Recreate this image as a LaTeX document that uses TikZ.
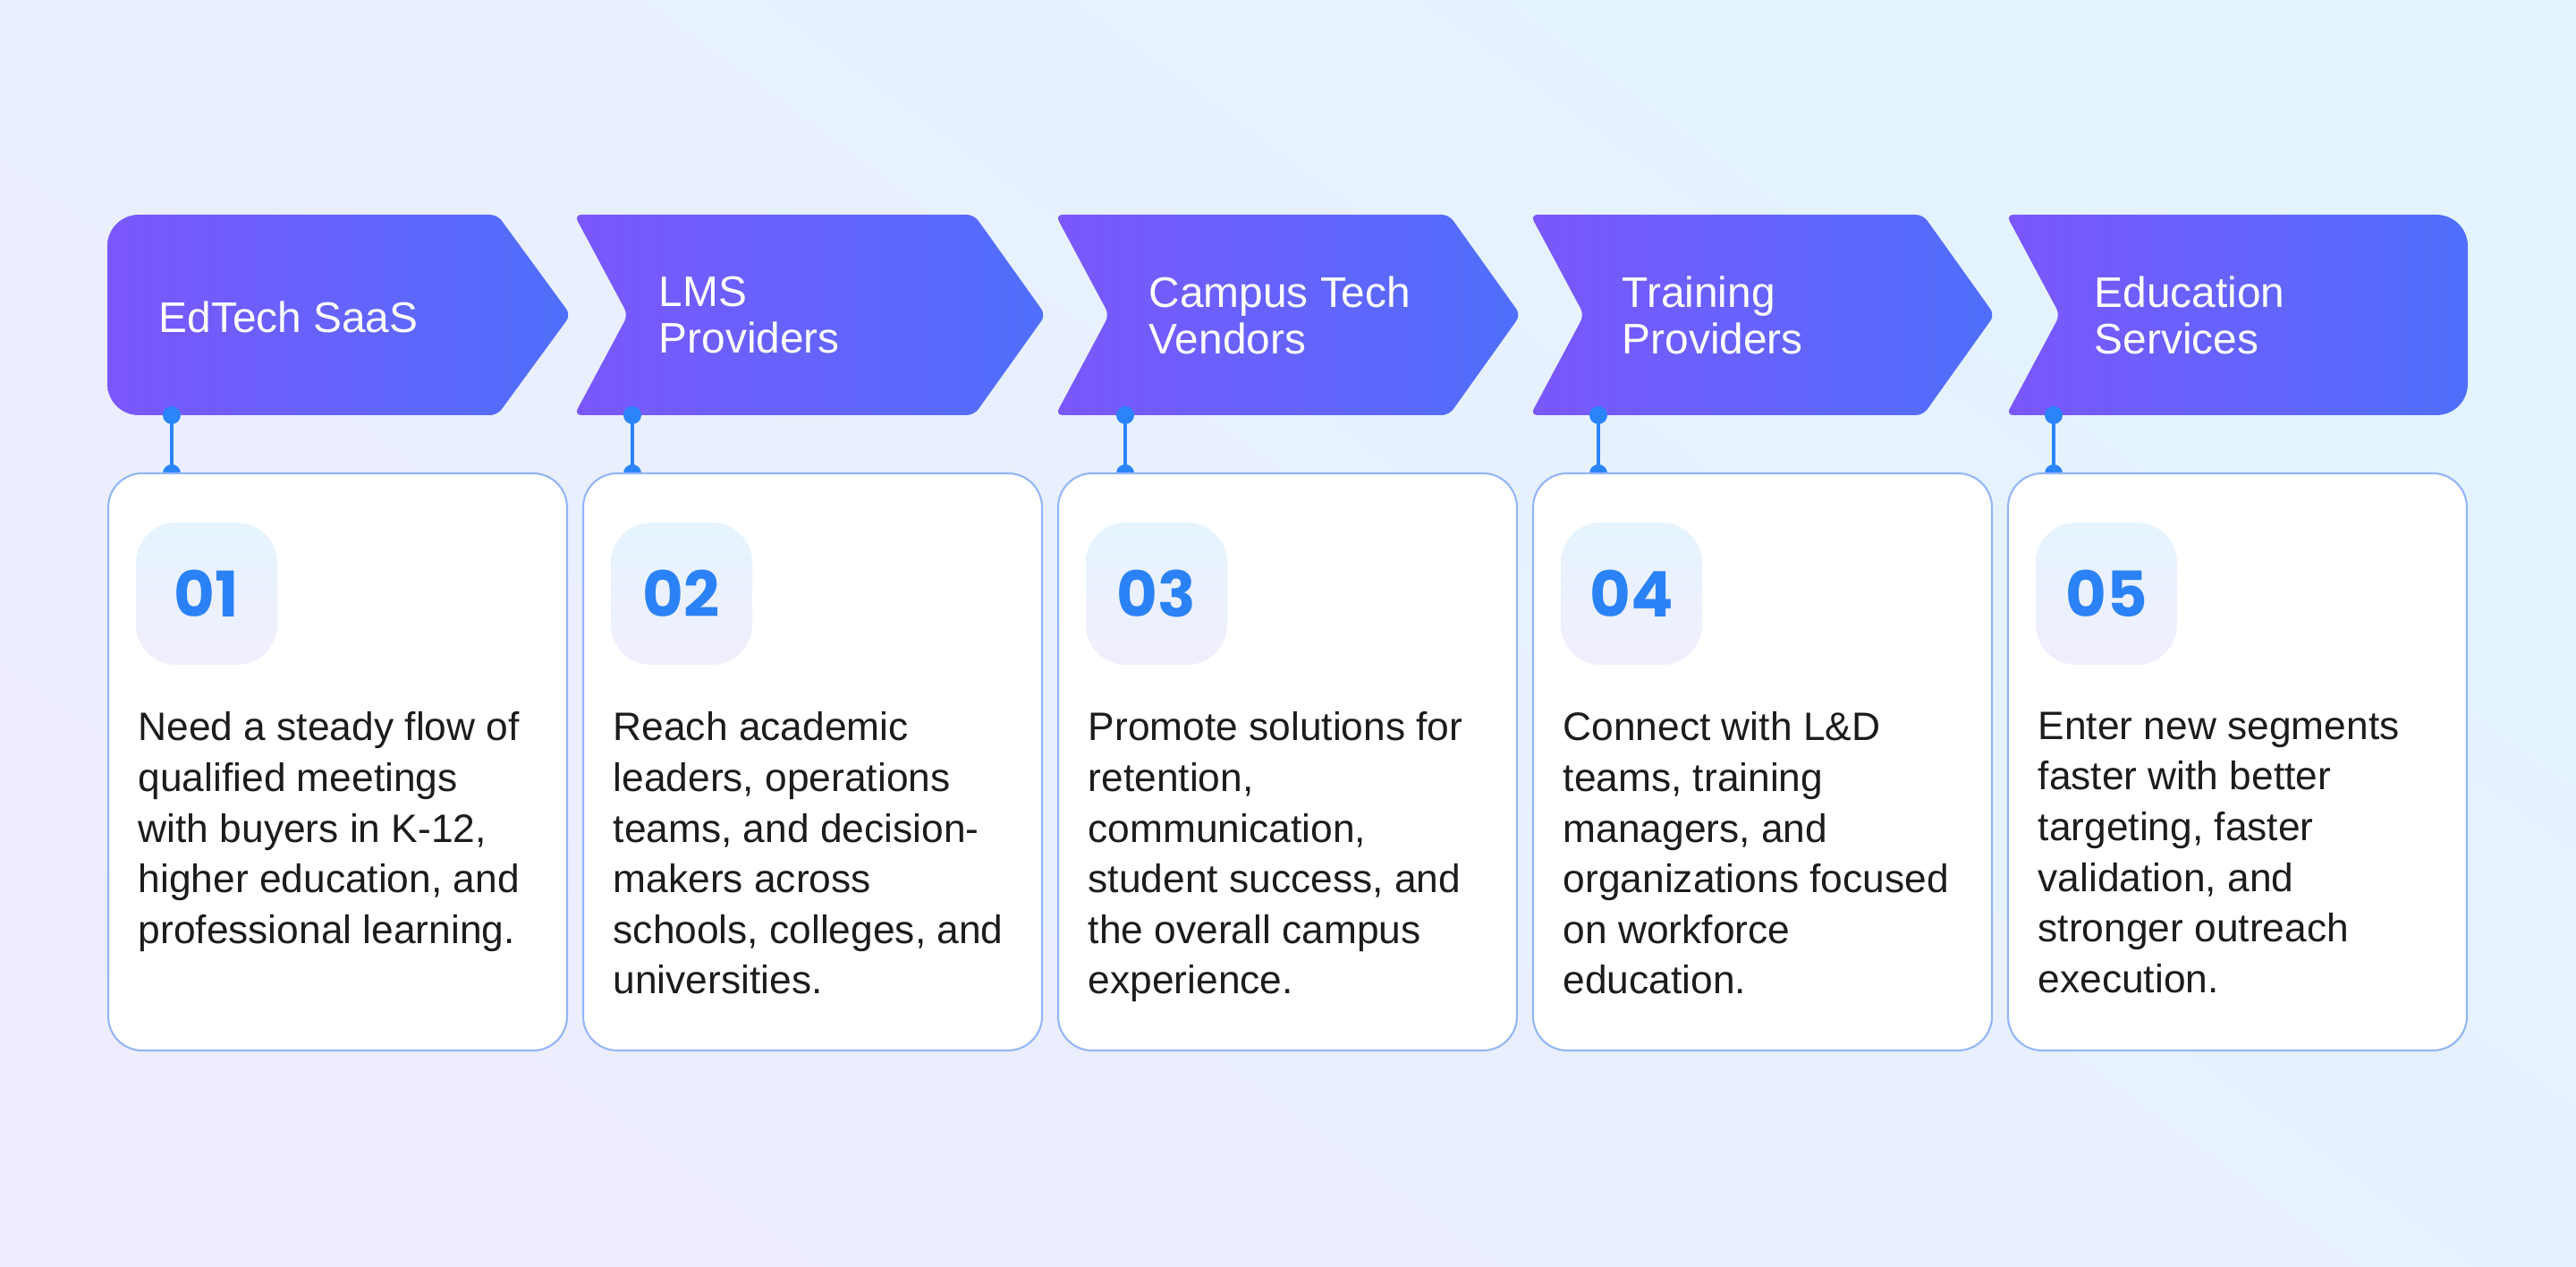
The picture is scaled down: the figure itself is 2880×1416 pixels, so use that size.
\documentclass[tikz,border=0pt]{standalone}
\usepackage{fontspec}
\setmainfont{Liberation Sans}
\newfontfamily\numfont{Poppins}
\usetikzlibrary{calc, positioning, shadings}
\definecolor{chevPurple}{HTML}{7B57FB}
\definecolor{chevBlue}{HTML}{4F6FFB}
\definecolor{bgLav}{HTML}{EFEBFD}
\definecolor{bgSky}{HTML}{E2F5FE}
\definecolor{cardLine}{HTML}{93B6F6}
\definecolor{pinBlue}{HTML}{2A84FB}
\definecolor{numBlue}{HTML}{2B82F6}
\definecolor{boxTop}{HTML}{E5F4FE}
\definecolor{boxBot}{HTML}{F1EEFD}
\definecolor{bodyText}{HTML}{1C1C1E}
\tikzset{
    chevShade/.style={left color=chevPurple, right color=chevBlue},
    stepCard/.style={draw=cardLine, line width=0.6pt, fill=white, rounded corners=0.38cm},
    numBox/.style={top color=boxTop, bottom color=boxBot, rounded corners=0.45cm},
    numText/.style={font={\numfont\bfseries\fontsize{20}{20}\selectfont}, text=numBlue, inner sep=0pt},
    titleText/.style={font={\fontsize{13.6}{14.8}\selectfont}, text=white, align=left, inner sep=0pt},
    bodyNote/.style={font={\fontsize{12.6}{16.1}\selectfont}, text=bodyText, align=left, inner sep=0pt, anchor=north west},
    pinLine/.style={draw=pinBlue, line width=1.1pt},
    pinDot/.style={fill=pinBlue},
}
% one card with its number badge and text
\newcommand{\drawCard}[4]{
    \path[stepCard] (#1,529) rectangle ++(513,645);
    \path[numBox] (#1+31,584) rectangle ++(158,159);
    \node[numText] (num#2) at (#1+110,663.5) {#3};
    \node[bodyNote] (note#2) at (#1+33,795) {#4};
    \coordinate (card#2) at (#1,529);
}
% connector from a chevron down to its card
\newcommand{\drawPin}[2]{
    \coordinate (pinA#1) at (#2,464);
    \coordinate (pinB#1) at (#2,529);
    \fill[pinDot] (pinA#1) circle (10);
    \fill[pinDot] (pinB#1) circle (10);
}

\begin{document}
\begin{tikzpicture}[x=0.01cm, y=-0.01cm]
    \shade[upper left=bgSky!40!bgLav, upper right=bgSky, lower left=bgLav, lower right=bgSky!60!bgLav]
        (0,0) rectangle (2880,1416);
    \useasboundingbox (0,0) rectangle (2880,1416);

    % chevrons
    \path[chevShade] (300,240) [rounded corners=0.08cm] -- (556,240) -- (638,352) -- (556,464)
        [rounded corners=0.35cm] -- (120,464) -- (120,240) -- (300,240);
    \path[chevShade, rounded corners=0.08cm] (642,240) -- (1089,240) -- (1169,352) -- (1089,464)
        -- (642,464) -- (702,352) -- cycle;
    \path[chevShade, rounded corners=0.08cm] (1180,240) -- (1620,240) -- (1700,352) -- (1620,464)
        -- (1180,464) -- (1240,352) -- cycle;
    \path[chevShade, rounded corners=0.08cm] (1711,240) -- (2150,240) -- (2230,352) -- (2150,464)
        -- (1711,464) -- (1771,352) -- cycle;
    \path[chevShade] (2500,240) [rounded corners=0.35cm] -- (2759,240) -- (2759,464)
        [rounded corners=0.08cm] -- (2243,464) -- (2303,352) -- (2243,240) -- (2500,240);

    \node[titleText, anchor=base west] (title1) at (177,372) {EdTech SaaS};
    \node[titleText, anchor=west] (title2) at (736,352) {LMS\\Providers};
    \node[titleText, anchor=west] (title3) at (1284,352) {Campus Tech\\Vendors};
    \node[titleText, anchor=west] (title4) at (1813,352) {Training\\Providers};
    \node[titleText, anchor=west] (title5) at (2341,352) {Education\\Services};

    % connectors
    \drawPin{1}{192}
    \drawPin{2}{707}
    \drawPin{3}{1258}
    \drawPin{4}{1787}
    \drawPin{5}{2296}
    \foreach \i in {1,...,5}
        \draw[pinLine] (pinA\i) -- (pinB\i);

    % cards
    \drawCard{121}{1}{01}{Need a steady flow of\\qualified meetings\\with buyers in K-12,\\higher education, and\\professional learning.}
    \drawCard{652}{2}{02}{Reach academic\\leaders, operations\\teams, and decision-\\makers across\\schools, colleges, and\\universities.}
    \drawCard{1183}{3}{03}{Promote solutions for\\retention,\\communication,\\student success, and\\the overall campus\\experience.}
    \drawCard{1714}{4}{04}{Connect with L\&D\\teams, training\\managers, and\\organizations focused\\on workforce\\education.}
    \drawCard{2245}{5}{05}{Enter new segments\\faster with better\\targeting, faster\\validation, and\\stronger outreach\\execution.}

\end{tikzpicture}
\end{document}
